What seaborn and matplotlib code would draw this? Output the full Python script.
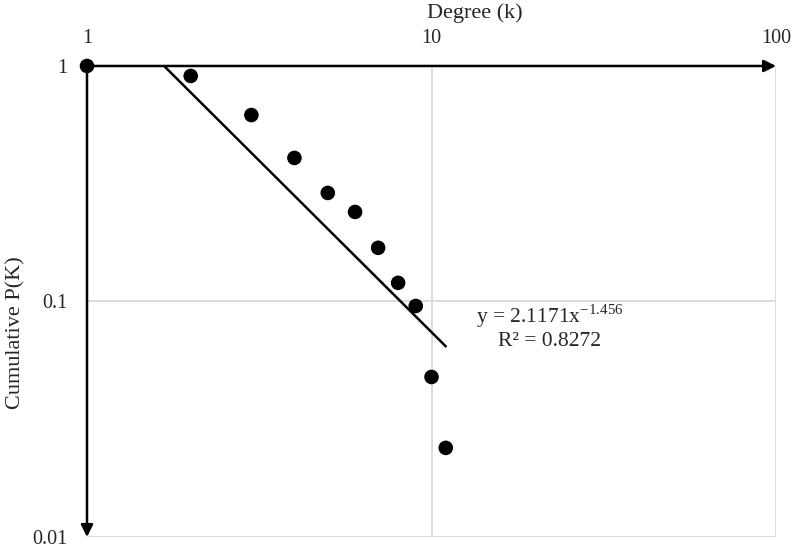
import numpy as np
import matplotlib
matplotlib.use("Agg")
import matplotlib.pyplot as plt
import seaborn as sns
import pandas as pd

# degree distribution values
degree = [1, 2, 3, 4, 5, 6, 7, 8, 9, 10, 11]
cum_p = [1.0, 0.907, 0.619, 0.407, 0.289, 0.240, 0.169, 0.120, 0.0957, 0.0478, 0.0239]

# power trendline as shown in the label
coef_a = 2.1171
coef_b = -1.456
r_squared = 0.8272

x_ticks = [1, 10, 100]
x_tick_labels = ["1", "10", "100"]
y_ticks = [1, 0.1, 0.01]
y_tick_labels = ["1", "0.1", "0.01"]

sns.set_style("white")
plt.rcParams["font.family"] = ["Liberation Serif", "DejaVu Serif"]
plt.rcParams["mathtext.fontset"] = "stix"

df = pd.DataFrame({"k": degree, "P": cum_p})

fig = plt.figure(figsize=(7.96, 5.48), dpi=100)
ax = fig.add_axes([0.1093, 0.0201, 0.8656, 0.8595])

ax.set_xscale("log")
ax.set_yscale("log")
ax.set_xlim(1, 100)
ax.set_ylim(0.01, 1)

# grid lines
for gx in [10, 100]:
    ax.axvline(gx, color="#d9d9d9", lw=1.3, zorder=0)
for gy in [0.1, 0.01]:
    ax.axhline(gy, color="#d9d9d9", lw=1.3, zorder=0)

# trendline over the data range
xs = np.logspace(0, np.log10(max(degree)), 100)
ax.plot(xs, coef_a * xs ** coef_b, color="black", lw=1.8, zorder=2)

sns.scatterplot(data=df, x="k", y="P", ax=ax, color="black", s=110,
                edgecolor="none", zorder=3, clip_on=False, legend=False)
ax.set_xlabel("")
ax.set_ylabel("")

# axes with arrows
ax.annotate("", xy=(1.0, 1.0), xytext=(0.0, 1.0), xycoords="axes fraction",
            arrowprops=dict(arrowstyle="-|>", color="black", lw=1.8,
                            mutation_scale=18, shrinkA=0, shrinkB=0))
ax.annotate("", xy=(0.0, 0.0), xytext=(0.0, 1.0), xycoords="axes fraction",
            arrowprops=dict(arrowstyle="-|>", color="black", lw=1.8,
                            mutation_scale=18, shrinkA=0, shrinkB=0))

for s in ax.spines.values():
    s.set_visible(False)

ax.xaxis.set_ticks_position("top")
ax.set_xticks(x_ticks)
ax.set_xticklabels(x_tick_labels)
ax.set_yticks(y_ticks)
ax.set_yticklabels(y_tick_labels)
ax.minorticks_off()
ax.tick_params(axis="x", length=0, pad=13, labelsize=14.5)
ax.tick_params(axis="y", length=4.3, width=1.2, color="black", direction="out",
               pad=10, labelsize=14.5)

fig.text(475 / 796, 1 - 13 / 548, "Degree (k)", fontsize=16,
         ha="center", va="center")
fig.text(16 / 796, 1 - 333 / 548, "Cumulative P(K)", fontsize=16,
         ha="center", va="center", rotation=90)

fig.text(550 / 796, 1 - 316 / 548,
         "y = %.4fx$^{\\mathregular{%.3f}}$" % (coef_a, coef_b),
         fontsize=15.5, ha="center", va="center")
fig.text(550 / 796, 1 - 341 / 548, "R² = %.4f" % r_squared, fontsize=15.5,
         ha="center", va="center")

fig.savefig("out.png", dpi=100)
